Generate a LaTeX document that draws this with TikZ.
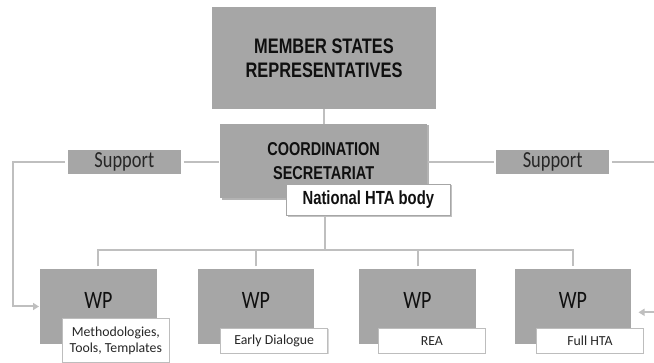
\documentclass[tikz,border=0pt]{standalone}
\usepackage{fontspec}
\setmainfont{Carlito}
\newfontfamily\bnarrow{Liberation Sans}[FakeStretch=0.78]
\newfontfamily\rnarrow{Carlito}[FakeStretch=0.8]
\usetikzlibrary{arrows.meta,shadows,calc}
\definecolor{boxgray}{HTML}{A6A6A6}
\definecolor{linegray}{HTML}{BFBFBF}
\definecolor{labelborder}{HTML}{BDBDBD}
\definecolor{darktext}{HTML}{101010}
\definecolor{labeltext}{HTML}{262626}
\begin{document}
\begin{tikzpicture}[x=1pt,y=-1pt,
  graybox/.style={fill=boxgray, inner sep=0pt, outer sep=0pt, anchor=north west},
  headtext/.style={text=darktext, align=center, font=\bnarrow\bfseries\fontsize{#1}{23.5}\selectfont},
  supportbox/.style={graybox, minimum width=113.3pt, minimum height=24pt, text=labeltext,
     font=\rnarrow\fontsize{23}{26}\selectfont},
  wpbox/.style={graybox, minimum height=75pt},
  wptext/.style={text=darktext, inner sep=0pt, font=\rnarrow\fontsize{25}{28}\selectfont},
  labelbox/.style={fill=white, draw=labelborder, line width=1pt, inner sep=0pt, outer sep=0pt,
     anchor=north west, text=labeltext, align=center,
     font=\fontsize{13.8}{16}\selectfont,
     drop shadow={shadow xshift=1pt, shadow yshift=-1pt, fill=black!30, opacity=0.5}},
  conn/.style={draw=linegray, line width=2pt},
  arr/.style={-{Triangle[length=6pt,width=7pt]}}
]
\useasboundingbox (0,0) rectangle (654,363);

% top boxes
\node[graybox, minimum width=223.4pt, minimum height=101.7pt, headtext=21] (ms) at (212.3,7.3)
  {MEMBER STATES\\REPRESENTATIVES};
\node[graybox, minimum width=207.3pt, minimum height=74.5pt, headtext=18.6,
  drop shadow={shadow xshift=2pt, shadow yshift=-1.5pt, fill=black!50, opacity=0.6}] (coord) at (220,124)
  {COORDINATION\\SECRETARIAT};
\node[fill=white, draw=black!35, line width=0.8pt, inner sep=0pt, outer sep=0pt, anchor=north west,
  minimum width=164.7pt, minimum height=31.7pt, text=darktext,
  font=\bnarrow\bfseries\fontsize{19}{22}\selectfont,
  drop shadow={shadow xshift=1.5pt, shadow yshift=-1.5pt, fill=black!40, opacity=0.6}] (hta) at (286,184)
  {National HTA body};

% support boxes
\node[supportbox] (supl) at (67.7,150) {Support};
\node[supportbox] (supr) at (496,150) {Support};

% WP boxes
\node[wpbox, minimum width=116.7pt] (wp1) at (40,269) {};
\node[wpbox, minimum width=116pt] (wp2) at (198,269) {};
\node[wpbox, minimum width=117pt] (wp3) at (359,269) {};
\node[wpbox, minimum width=116pt] (wp4) at (515,269) {};
\node[wptext] (wp1t) at ([yshift=6pt]wp1.center) {WP};
\node[wptext] (wp2t) at ([yshift=6pt]wp2.center) {WP};
\node[wptext] (wp3t) at ([yshift=6pt]wp3.center) {WP};
\node[wptext] (wp4t) at ([yshift=6pt]wp4.center) {WP};

% label boxes
\node[labelbox, minimum width=106.3pt, minimum height=43.5pt] (lab1) at (62.7,319)
  {Methodologies,\\Tools, Templates};
\node[labelbox, minimum width=107pt, minimum height=25pt] (lab2) at (220.7,328.3) {Early Dialogue};
\node[labelbox, minimum width=106.3pt, minimum height=25pt] (lab3) at (378.7,328.3) {REA};
\node[labelbox, minimum width=106.6pt, minimum height=25pt] (lab4) at (536.7,328.3) {Full HTA};

% connectors
\coordinate (lc) at (12.7,162.7);
\coordinate (re) at (654,162.7);
\coordinate (ra) at (654,312.3);
\coordinate (bus) at (325,250);

\draw[conn] (ms.south) -- (ms.south |- coord.north);
\draw[conn, shorten <=2.5pt, shorten >=1.5pt] (supl.east) -- (supl.east -| coord.west);
\draw[conn, arr, shorten <=2.5pt, shorten >=1pt] (supl.west) -- (supl.west -| lc) |- (wp1.west);
\draw[conn, shorten <=1pt, shorten >=2pt] (supr.west -| coord.east) -- (supr.west);
\draw[conn, shorten <=2.5pt] (supr.east) -- (supr.east -| re);
\draw[conn, arr, shorten >=7.5pt] (ra) -- (ra -| wp4.east);

\draw[conn] (hta.south -| bus) -- (bus);
\draw[conn] ([yshift=2.5pt]wp1.north) |- (bus) -| ([yshift=2.5pt]wp4.north);
\draw[conn] ([yshift=2.5pt]wp2.north) -- (wp2.north |- bus);
\draw[conn] ([yshift=2.5pt]wp3.north) -- (wp3.north |- bus);
\end{tikzpicture}
\end{document}
